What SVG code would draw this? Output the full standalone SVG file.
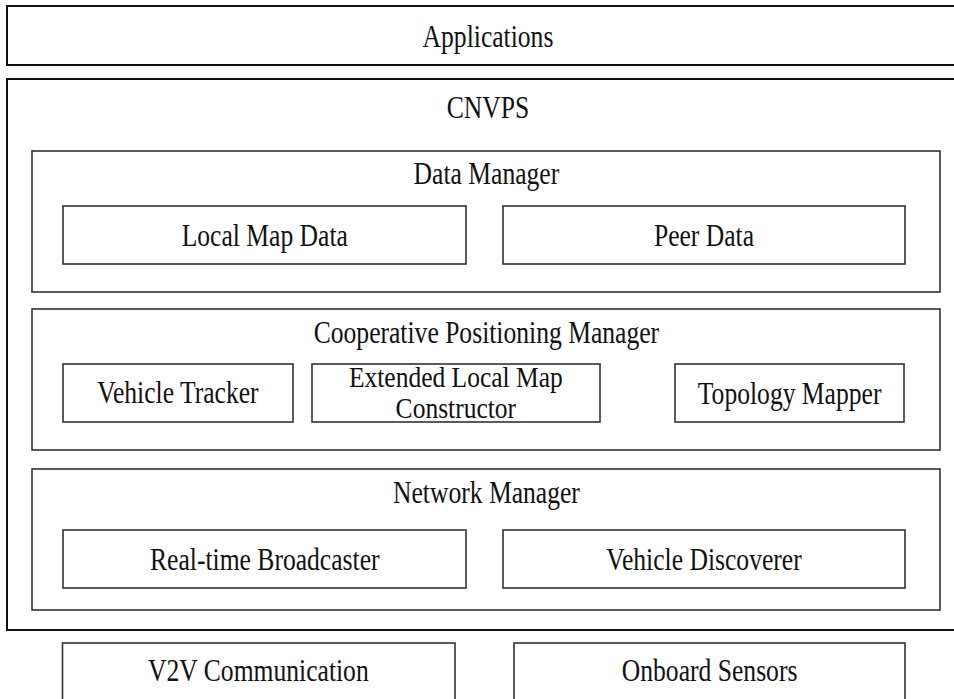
<svg xmlns="http://www.w3.org/2000/svg" width="954" height="699" viewBox="0 0 954 699">
<style>
rect{fill:#fff}
.outer{stroke:#111;stroke-width:2}
.inner{stroke:#333;stroke-width:1.6}
text{font-family:"Liberation Serif","Times New Roman",serif;font-size:32px;fill:#111;text-anchor:middle}
.two{font-size:29px}
</style>
<rect width="954" height="699" fill="#fff"/>
<g id="applications">
<rect class="outer" x="7" y="6" width="960" height="59"/>
<text transform="scale(0.8,1)" x="610" y="47">Applications</text>
</g>
<g id="cnvps">
<rect class="outer" x="7" y="79" width="960" height="551"/>
<text transform="scale(0.8,1)" x="610" y="118">CNVPS</text>
</g>
<g id="data-manager">
<rect class="inner" x="32" y="151" width="908" height="141"/>
<text transform="scale(0.8,1)" x="608" y="184">Data Manager</text>
</g>
<g id="local-map-data">
<rect class="inner" x="63" y="206" width="403" height="58"/>
<text transform="scale(0.8,1)" x="331" y="246">Local Map Data</text>
</g>
<g id="peer-data">
<rect class="inner" x="503" y="206" width="402" height="58"/>
<text transform="scale(0.8,1)" x="880" y="246">Peer Data</text>
</g>
<g id="cooperative-positioning-manager">
<rect class="inner" x="32" y="309" width="908" height="141"/>
<text transform="scale(0.8,1)" x="608" y="343">Cooperative Positioning Manager</text>
</g>
<g id="vehicle-tracker">
<rect class="inner" x="63" y="364" width="230" height="58"/>
<text transform="scale(0.8,1)" x="222.5" y="403">Vehicle Tracker</text>
</g>
<g id="extended-local-map-constructor">
<rect class="inner" x="312" y="364" width="288" height="58"/>
<text class="two" transform="scale(0.88,1)" x="518" y="387">Extended Local Map</text>
<text class="two" transform="scale(0.88,1)" x="518" y="418">Constructor</text>
</g>
<g id="topology-mapper">
<rect class="inner" x="675" y="364" width="229" height="58"/>
<text transform="scale(0.8,1)" x="987" y="404">Topology Mapper</text>
</g>
<g id="network-manager">
<rect class="inner" x="32" y="469" width="908" height="141"/>
<text transform="scale(0.8,1)" x="608" y="503">Network Manager</text>
</g>
<g id="real-time-broadcaster">
<rect class="inner" x="63" y="530" width="403" height="58"/>
<text transform="scale(0.8,1)" x="331" y="570">Real-time Broadcaster</text>
</g>
<g id="vehicle-discoverer">
<rect class="inner" x="503" y="530" width="402" height="58"/>
<text transform="scale(0.8,1)" x="880" y="570">Vehicle Discoverer</text>
</g>
<g id="v2v-communication">
<rect class="inner" x="62.5" y="643" width="392.5" height="70"/>
<text transform="scale(0.8,1)" x="323" y="681">V2V Communication</text>
</g>
<g id="onboard-sensors">
<rect class="inner" x="514" y="643" width="391" height="70"/>
<text transform="scale(0.8,1)" x="887" y="681">Onboard Sensors</text>
</g>
<g id="connectors"></g>
</svg>
